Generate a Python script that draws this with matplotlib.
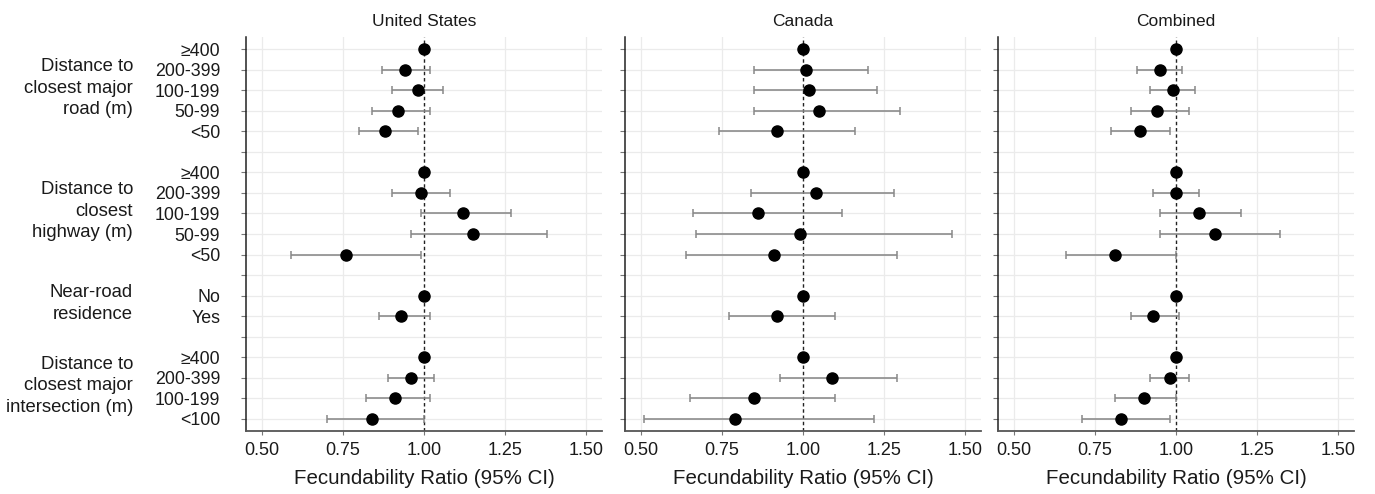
import numpy as np
import matplotlib
matplotlib.use("Agg")
import matplotlib.pyplot as plt
import matplotlib.transforms as mtransforms

plt.rcParams["font.family"] = ["Liberation Sans", "DejaVu Sans"]

nan = np.nan

# rows from top to bottom; "" marks the spacer rows between groups
row_labels = ["≥400", "200-399", "100-199", "50-99", "<50", "",
              "≥400", "200-399", "100-199", "50-99", "<50", "",
              "No", "Yes", "",
              "≥400", "200-399", "100-199", "<100"]

group_labels = ["Distance to\nclosest major\nroad (m)",
                "Distance to\nclosest\nhighway (m)",
                "Near-road\nresidence",
                "Distance to\nclosest major\nintersection (m)"]
group_first_last = [(0, 4), (6, 10), (12, 13), (15, 18)]

panel_titles = ["United States", "Canada", "Combined"]

us_fr = [1.00, 0.94, 0.98, 0.92, 0.88, nan, 1.00, 0.99, 1.12, 1.15, 0.76, nan, 1.00, 0.93, nan, 1.00, 0.96, 0.91, 0.84]
us_lo = [nan, 0.87, 0.90, 0.84, 0.80, nan, nan, 0.90, 0.99, 0.96, 0.59, nan, nan, 0.86, nan, nan, 0.89, 0.82, 0.70]
us_hi = [nan, 1.02, 1.06, 1.02, 0.98, nan, nan, 1.08, 1.27, 1.38, 0.99, nan, nan, 1.02, nan, nan, 1.03, 1.02, 1.00]

ca_fr = [1.00, 1.01, 1.02, 1.05, 0.92, nan, 1.00, 1.04, 0.86, 0.99, 0.91, nan, 1.00, 0.92, nan, 1.00, 1.09, 0.85, 0.79]
ca_lo = [nan, 0.85, 0.85, 0.85, 0.74, nan, nan, 0.84, 0.66, 0.67, 0.64, nan, nan, 0.77, nan, nan, 0.93, 0.65, 0.51]
ca_hi = [nan, 1.20, 1.23, 1.30, 1.16, nan, nan, 1.28, 1.12, 1.46, 1.29, nan, nan, 1.10, nan, nan, 1.29, 1.10, 1.22]

co_fr = [1.00, 0.95, 0.99, 0.94, 0.89, nan, 1.00, 1.00, 1.07, 1.12, 0.81, nan, 1.00, 0.93, nan, 1.00, 0.98, 0.90, 0.83]
co_lo = [nan, 0.88, 0.92, 0.86, 0.80, nan, nan, 0.93, 0.95, 0.95, 0.66, nan, nan, 0.86, nan, nan, 0.92, 0.81, 0.71]
co_hi = [nan, 1.02, 1.06, 1.04, 0.98, nan, nan, 1.07, 1.20, 1.32, 1.00, nan, nan, 1.01, nan, nan, 1.04, 1.00, 0.98]

panels = [(us_fr, us_lo, us_hi), (ca_fr, ca_lo, ca_hi), (co_fr, co_lo, co_hi)]
x_ticks = [0.50, 0.75, 1.00, 1.25, 1.50]

W, H = 1375, 494
fig = plt.figure(figsize=(W / 100, H / 100), dpi=100)

lefts = [246, 625, 998]
bottom = (H - 431) / H
height = 394 / H
width = 356 / W

ypos = np.arange(len(row_labels))

for i, (fr, lo, hi) in enumerate(panels):
    ax = fig.add_axes([lefts[i] / W, bottom, width, height])
    fr = np.array(fr)
    lo = np.array(lo)
    hi = np.array(hi)

    # grid
    for y in ypos:
        ax.axhline(y, color="#ebebeb", lw=0.9, zorder=0)
    for x in x_ticks:
        if x != 1.0:
            ax.axvline(x, color="#ebebeb", lw=0.9, zorder=0)
    ax.axvline(1.0, color="#222222", lw=1.0, ls=(0, (2.5, 2)), zorder=1)

    has_ci = ~np.isnan(lo)
    ax.errorbar(fr[has_ci], ypos[has_ci],
                xerr=[fr[has_ci] - lo[has_ci], hi[has_ci] - fr[has_ci]],
                fmt="none", ecolor="#888888", elinewidth=1.15, capsize=3.2,
                capthick=1.1, zorder=2)
    ok = ~np.isnan(fr)
    ax.plot(fr[ok], ypos[ok], "o", color="black", markersize=8.0, zorder=3)

    ax.set_xlim(0.45, 1.55)
    ax.set_ylim(len(row_labels) - 1 + 0.6, -0.6)
    ax.set_xticks(x_ticks)
    ax.set_xticklabels([f"{x:.2f}" for x in x_ticks])
    ax.set_yticks(ypos)
    if i == 0:
        ax.set_yticklabels(row_labels)
    else:
        ax.set_yticklabels([])

    for s in ["top", "right"]:
        ax.spines[s].set_visible(False)
    ax.spines["left"].set_color("#222222")
    ax.spines["bottom"].set_color("#555555")
    ax.spines["left"].set_linewidth(1.1)
    ax.spines["bottom"].set_linewidth(1.3)
    ax.tick_params(axis="y", length=3.6, width=0.8, color="#777777",
                   pad=15, labelsize=12.8, labelcolor="#1a1a1a")
    ax.tick_params(axis="x", length=3.0, width=0.8, color="#777777",
                   pad=5, labelsize=13, labelcolor="#1a1a1a")
    ax.set_facecolor("white")

    ax.set_xlabel("Fecundability Ratio (95% CI)", fontsize=14.8,
                  color="#1a1a1a", labelpad=7)
    ax.text(0.5, 1.039, panel_titles[i], transform=ax.transAxes,
            ha="center", va="center", fontsize=12.5, color="#1a1a1a")

    if i == 0:
        trans = mtransforms.blended_transform_factory(fig.transFigure, ax.transData)
        for lab, (a, b) in zip(group_labels, group_first_last):
            ax.text(133 / W, (a + b) / 2 - 0.1, lab, transform=trans,
                    ha="right", va="center", multialignment="right",
                    fontsize=13.3, color="#1a1a1a", linespacing=1.35)

fig.savefig("out.png", dpi=100)
